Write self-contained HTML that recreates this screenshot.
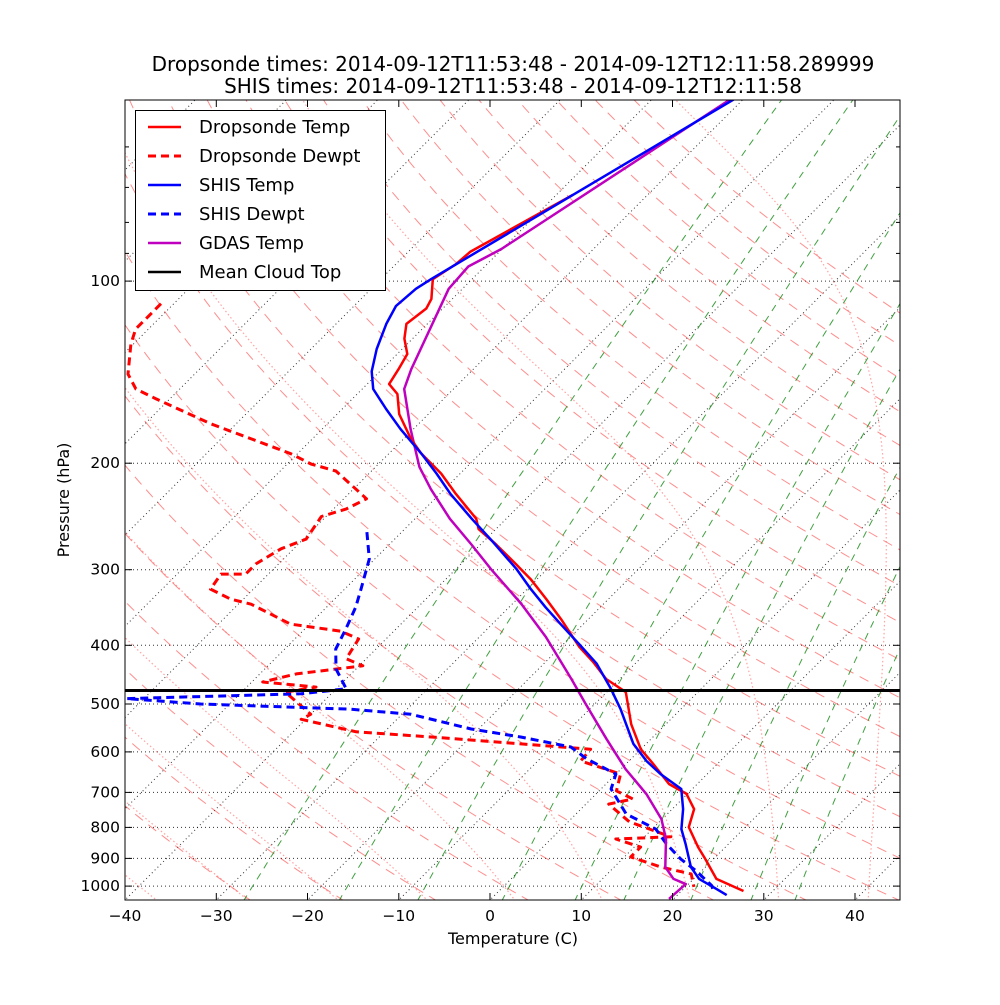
<!DOCTYPE html>
<html><head><meta charset="utf-8"><style>
body{margin:0;background:#fff}
svg text{font-family:"DejaVu Sans","Liberation Sans",sans-serif}
</style></head><body>
<svg id="chart" width="1000" height="1000" xmlns="http://www.w3.org/2000/svg">
<defs><clipPath id="clip"><rect x="125" y="100" width="775" height="800"/></clipPath></defs>
<rect width="1000" height="1000" fill="#fff"/>
<text x="513" y="71" font-size="20" text-anchor="middle">Dropsonde times: 2014-09-12T11:53:48 - 2014-09-12T12:11:58.289999</text>
<text x="513" y="93" font-size="20" text-anchor="middle">SHIS times: 2014-09-12T11:53:48 - 2014-09-12T12:11:58</text>
<g id="bg" clip-path="url(#clip)"></g>
<g id="series" clip-path="url(#clip)"></g>
<g id="axes"></g>
<text x="513" y="944" font-size="16" text-anchor="middle">Temperature (C)</text>
<text transform="translate(69,500) rotate(-90)" font-size="16" text-anchor="middle">Pressure (hPa)</text>
<g id="legend"></g>
</svg>
<script>
const dsTempP=[72,89.5,93.7,99.3,107,111,117.7,124.5,132,139.8,148,153.7,165.9,182.3,193,208,225,247,257,272,293.5,311,335.5,362,402,426,454.7,478,540,594,628.5,678,704,746,799,862,902,973,1019];
const dsTempT=[-68.2,-73.2,-73.4,-74.3,-72.3,-71.8,-72.3,-70.9,-68.9,-68.2,-67.6,-65.6,-63.2,-59.2,-56.4,-52.1,-48.2,-43.3,-41.9,-38.4,-34,-30.7,-26.8,-23,-18,-14.8,-11.5,-7.9,-3.8,0,3,6.9,9.9,12.4,13.8,17,19.1,22.5,26.8];
const dsDewP=[109,120,127,142.5,150.8,156.6,172.3,182.3,193,200.6,206,220.8,229,238,245,267,277,293.5,305,305,323,335.5,342,369,379,390.5,421,432.5,446,460,469,478,520,530,556,567,582,594,621,653,696,718,732,783,829,836,862,895,930,955,1003];
const dsDewT=[-101.4,-101.4,-100.3,-97.3,-94.8,-91.5,-82.7,-76.7,-70.7,-67.4,-63.9,-59.7,-57.5,-58.6,-60.5,-59.7,-61.4,-62.5,-62.5,-65.2,-64.7,-61.4,-58.6,-52.1,-45.8,-43,-42.2,-39.6,-46,-48.8,-42.4,-45.2,-40,-40.5,-33.1,-24.3,-13.7,-5.5,-5.3,0.5,1.9,4.6,2.5,6.7,12.9,7.1,10.7,10.7,15.1,19.2,20.9];
const shisTempP=[50,99.3,103,110,117.7,129.5,141,150.8,162.7,175.7,193,208,225,247,267,299,323,346,369,398,429,472,510,582,621,653,691,746,805,852,930,973,1003,1035];
const shisTempT=[-61,-74.5,-75.1,-75.4,-74.5,-72.8,-70.9,-68.8,-65.2,-61.4,-56.4,-52.6,-48.8,-43.8,-39.5,-33.4,-29.6,-26,-22.5,-18.3,-14.2,-9.9,-6.6,-1.4,1.9,4.9,8.8,11.2,13.2,15.3,18.4,20.6,23,25.4];
const shisDewP=[260,288,323,346,375.8,405.8,437.6,472,481,490,500,510,520,550,567,589,616,653,691,760,805,852,902,944,998,1011];
const shisDewT=[-53.8,-50.6,-48.2,-46.8,-45.5,-44.4,-42.2,-38.9,-43.3,-61.9,-53.2,-36.2,-29,-20.8,-14.5,-7.9,-4.9,0,1.1,5.5,10.4,13.2,16.4,19.4,22.7,23.2];
const gdasP=[50,88.5,94.6,103,139.8,150.8,175.7,202.8,220.8,247,272,299,341.8,387.5,454.7,500,571,640.5,704,774.6,836,930,973,992,1050];
const gdasT=[-61.4,-70.1,-71.8,-71.5,-66.8,-65.4,-60.3,-55.2,-51.5,-46.2,-41.1,-36.2,-29,-22.7,-15.3,-11,-4.9,0.5,5.5,9.9,12.6,15.6,17.8,19.7,19.5];
const cloudTopP=475;
const xTicks=[-40,-30,-20,-10,0,10,20,30,40];
const yTicks=[100,200,300,400,500,600,700,800,900,1000];
const yMinor=[60,70,80,90];
const mixRatios=[0.0004,0.001,0.002,0.004,0.007,0.01,0.016,0.024,0.032];

const NS="http://www.w3.org/2000/svg";
function yOf(p){return 100+605*Math.log10(p/50.2);}
function xOf(T,p){return 490+9.125*T+(900-yOf(p));}
function mk(tag,parent){const e=document.createElementNS(NS,tag);parent.appendChild(e);return e;}
function path(parent,pts,stroke,w,dash,op){
  const e=mk('path',parent);
  e.setAttribute('d','M'+pts.map(q=>q[0].toFixed(1)+','+q[1].toFixed(1)).join('L'));
  e.setAttribute('fill','none');e.setAttribute('stroke',stroke);e.setAttribute('stroke-width',w);
  if(dash)e.setAttribute('stroke-dasharray',dash);
  if(op)e.setAttribute('stroke-opacity',op);
  return e;
}
const bg=document.getElementById('bg');
const pLevels=[];for(let lp=Math.log(1060);lp>=Math.log(48);lp-=0.02)pLevels.push(Math.exp(lp));
for(let T=-160;T<=50;T+=10){
  const e=path(bg,[[xOf(T,1060),yOf(1060)],[xOf(T,48),yOf(48)]],'#000',1,'1,3',0.8);
  
  
}
yTicks.forEach(p=>{const e=path(bg,[[125,yOf(p)],[900,yOf(p)]],'#000',1,'1,3',0.8);
  
  });
for(let t0=-30;t0<=200;t0+=10){
  const pts=pLevels.map(p=>{const T=(t0+273.15)*Math.pow(p/1000,0.2857)-273.15;return [xOf(T,p),yOf(p)];});
  const e=path(bg,pts,'#ff0000',1,'10,7',0.45);
  
  
}
function es(Tc){return 6.112*Math.exp(17.67*Tc/(Tc+243.5));}
function dTdp(T,p){const Tc=T-273.15;const e=es(Tc);const rs=0.622*e/Math.max(p-e,1e-3);
  return (287.04*T+2.501e6*rs)/(p*(1005.7+2.501e6*2.501e6*rs*0.622/(287.04*T*T)));}
function moist(t0){
  const up=[],down=[];let T=t0+273.15,p=1000;up.push([T,p]);
  while(p>48){const dp=-2;const k1=dTdp(T,p),k2=dTdp(T+k1*dp/2,p+dp/2),k3=dTdp(T+k2*dp/2,p+dp/2),k4=dTdp(T+k3*dp,p+dp);T+=(k1+2*k2+2*k3+k4)*dp/6;p+=dp;up.push([T,p]);}
  T=t0+273.15;p=1000;
  while(p<1060){const dp=2;T+=dTdp(T,p)*dp;p+=dp;down.push([T,p]);}
  return down.reverse().concat(up).map(q=>[xOf(q[0]-273.15,q[1]),yOf(q[1])]);
}
for(let t0=-40;t0<=40;t0+=10){
  const e=path(bg,moist(t0),'#ff6666',1.2,'1.5,2.5',0.6);
  
  
}
mixRatios.forEach(w=>{
  const pts=pLevels.map(p=>{const e=w*p/(0.622+w);const l=Math.log(e/6.112);const Td=243.5*l/(17.67-l);return [xOf(Td,p),yOf(p)];});
  const e=path(bg,pts,'#008000',1,'7,6',0.75);
  
  
});
const sg=document.getElementById('series');
function series(P,T,color,dash,name){
  const e=path(sg,P.map((p,i)=>[xOf(T[i],p),yOf(p)]),color,dash?3:2.5,dash?'8,5':null);
  e.setAttribute('stroke-linejoin','round');
  
  
}
series(dsDewP,dsDewT,'#ff0000',true,'dropsonde-dewpt-line');
series(shisDewP,shisDewT,'#0000ff',true,'shis-dewpt-line');
series(gdasP,gdasT,'#bf00bf',false,'gdas-temp-line');
series(dsTempP,dsTempT,'#ff0000',false,'dropsonde-temp-line');
series(shisTempP,shisTempT,'#0000ff',false,'shis-temp-line');
const ct=path(sg,[[125,yOf(cloudTopP)],[900,yOf(cloudTopP)]],'#000',3);


const ax=document.getElementById('axes');
const fr=mk('rect',ax);fr.setAttribute('x',125);fr.setAttribute('y',100);fr.setAttribute('width',775);fr.setAttribute('height',800);
fr.setAttribute('fill','none');fr.setAttribute('stroke','#000');fr.setAttribute('stroke-width',1);


xTicks.forEach(T=>{const x=490+9.125*T;
  path(ax,[[x,900],[x,893]],'#000',1);path(ax,[[x,100],[x,107]],'#000',1);
  const t=mk('text',ax);t.setAttribute('x',x);t.setAttribute('y',921);t.setAttribute('font-size',15.5);t.setAttribute('text-anchor','middle');
  t.textContent=T<0?'\u2212'+(-T):String(T);
  
  });
yTicks.forEach(p=>{const y=yOf(p);
  path(ax,[[125,y],[132,y]],'#000',1);path(ax,[[900,y],[893,y]],'#000',1);
  const t=mk('text',ax);t.setAttribute('x',120);t.setAttribute('y',y+5);t.setAttribute('font-size',15.5);t.setAttribute('text-anchor','end');
  t.textContent=String(p);
  
  });
yMinor.forEach(p=>{const y=yOf(p);path(ax,[[125,y],[129,y]],'#000',1);path(ax,[[900,y],[896,y]],'#000',1);});
const lg=document.getElementById('legend');
const lb=mk('rect',lg);lb.setAttribute('x',135.5);lb.setAttribute('y',110.5);lb.setAttribute('width',250);lb.setAttribute('height',180);
lb.setAttribute('fill','#fff');lb.setAttribute('stroke','#000');
const entries=[['Dropsonde Temp','#ff0000',null],['Dropsonde Dewpt','#ff0000','8,5'],['SHIS Temp','#0000ff',null],['SHIS Dewpt','#0000ff','8,5'],['GDAS Temp','#bf00bf',null],['Mean Cloud Top','#000',null]];
entries.forEach((en,i)=>{const y=127+29*i;
  const g=mk('g',lg);
  
  
  path(g,[[148,y],[181,y]],en[1],en[2]?3:2.5,en[2]);
  const t=mk('text',g);t.setAttribute('x',199);t.setAttribute('y',y+6);t.setAttribute('font-size',18);t.textContent=en[0];});
</script>
</body></html>
